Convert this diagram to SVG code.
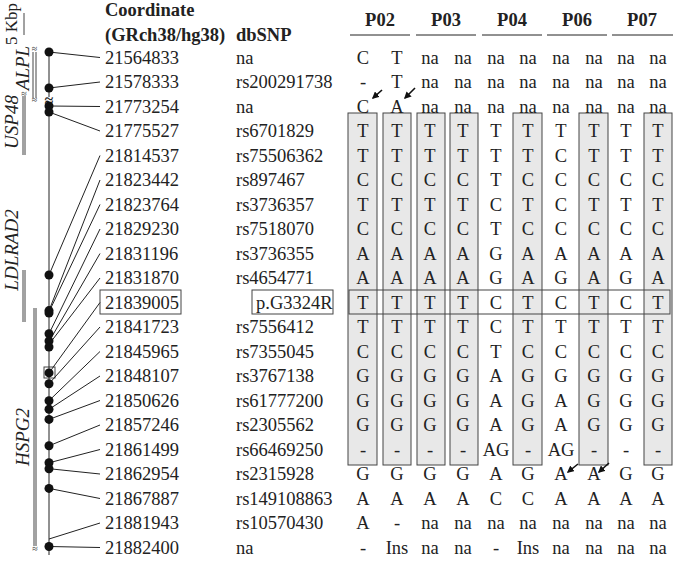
<svg xmlns="http://www.w3.org/2000/svg" width="675" height="581" viewBox="0 0 675 581">
<defs>
<style>
text{font-family:"Liberation Serif","Times New Roman",serif;font-size:18.5px;fill:#222}
.b{font-weight:bold}
.i{font-style:italic;font-size:19px}
.c{text-anchor:middle}
.ln{stroke:#222;stroke-width:1;fill:none}
.ar{stroke:#111;stroke-width:1.6;fill:none}
.gb{fill:#e8e8e8;stroke:#444;stroke-width:1}
.dot{fill:#111}
.bar{stroke:#444;stroke-width:1;fill:none}
</style>
<marker id="ah" viewBox="0 0 10 10" refX="8" refY="5" markerWidth="4.5" markerHeight="4.5" orient="auto"><path d="M0,0 L10,5 L0,10 z" fill="#111"/></marker>
</defs>
<rect width="675" height="581" fill="#fff"/>
<g id="header">
<text x="105" y="16" class="b">Coordinate</text>
<text x="105" y="41" class="b">(GRch38/hg38)</text>
<text x="236" y="41" class="b">dbSNP</text>
<text x="380" y="26" class="b c">P02</text>
<text x="446" y="26" class="b c">P03</text>
<text x="512" y="26" class="b c">P04</text>
<text x="577" y="26" class="b c">P06</text>
<text x="642" y="26" class="b c">P07</text>
<path class="ln" d="M350,35H410M416,35H476M482,35H542M547,35H607M612,35H673"/>
</g>
<g id="grey-columns">
<rect class="gb" x="348" y="113" width="29" height="352"/>
<rect class="gb" x="383" y="113" width="28" height="352"/>
<rect class="gb" x="417" y="113" width="28" height="352"/>
<rect class="gb" x="450" y="113" width="28" height="352"/>
<rect class="gb" x="513" y="113" width="29" height="352"/>
<rect class="gb" x="579" y="113" width="29" height="352"/>
<rect class="gb" x="644" y="113" width="28" height="352"/>
</g>
<g id="highlight">
<rect x="100" y="290" width="81" height="24" fill="none" stroke="#444"/>
<rect x="252" y="290" width="81" height="24" fill="none" stroke="#444"/>
<rect x="349" y="290" width="321" height="24" fill="none" stroke="#444"/>
<rect x="44" y="367" width="11" height="11" fill="none" stroke="#444"/>
</g>
<g id="genes">
<path class="bar" d="M24,13V35"/>
<text transform="translate(17,24) rotate(-90)" class="c" style="font-size:17px">5 Kbp</text>
<path class="bar" d="M33,52V98M36,52V98"/>
<text x="34.5" y="52" class="c" style="font-size:10px">≈</text>
<text x="34.5" y="103" class="c" style="font-size:10px">≈</text>
<text transform="translate(29,68) rotate(-90)" class="i c">ALPL</text>
<path class="bar" d="M23,96V155M25,96V155"/>
<text x="24" y="97" class="c" style="font-size:10px">≈</text>
<text transform="translate(18,122) rotate(-90)" class="i c">USP48</text>
<path class="bar" d="M23,270V322M25,270V322"/>
<text transform="translate(18,250) rotate(-90)" class="i c">LDLRAD2</text>
<path class="bar" d="M34,308V546M36,308V546"/>
<text x="35" y="552" class="c" style="font-size:10px">≈</text>
<text transform="translate(29,437) rotate(-90)" class="i c">HSPG2</text>
</g>
<g id="track">
<path class="ln" d="M49,52V97M49,104V555"/>
<text x="49" y="106" class="c b" style="font-size:16px">≈</text>
</g>
<g id="connectors">
<path class="ln" d="M49,52L100,57.5M49,88L100,82M49,106L100,106.5M49,112L100,131M49,275L100,155.5M49,310.6L100,180M49,311.9L100,204.5M49,333.8L100,229M49,341.6L100,253.5M49,344.3L100,278M49,372.9L100,302.5M49,383.7L100,327M49,400.7L100,351.5M49,409.3L100,376M49,419.4L100,400.5M49,445.8L100,425M49,462.8L100,449.5M49,468.7L100,474M49,488.4L100,498.5M49,539L100,523M49,546.5L100,547.5"/>
<path class="ar" d="M382,90L373,98" marker-end="url(#ah)"/>
<path class="ar" d="M415,88L405,98" marker-end="url(#ah)"/>
<path class="ar" d="M578,464L568,472" marker-end="url(#ah)"/>
<path class="ar" d="M609,463L599,472" marker-end="url(#ah)"/>
</g>
<g id="dots" class="dot">
<circle cx="49" cy="52" r="4.5"/><circle cx="49" cy="88" r="4.5"/><circle cx="49" cy="106" r="4.5"/><circle cx="49" cy="112" r="4.5"/><circle cx="49" cy="275" r="4.5"/><circle cx="49" cy="310.6" r="4.5"/><circle cx="49" cy="313" r="4.5"/><circle cx="49" cy="333.8" r="4.5"/><circle cx="49" cy="341" r="4.5"/><circle cx="49" cy="347" r="4.5"/><circle cx="49" cy="372.9" r="4.5"/><circle cx="49" cy="383.7" r="4.5"/><circle cx="49" cy="400.7" r="4.5"/><circle cx="49" cy="409.3" r="4.5"/><circle cx="49" cy="419.4" r="4.5"/><circle cx="49" cy="445.8" r="4.5"/><circle cx="49" cy="462.8" r="4.5"/><circle cx="49" cy="468.7" r="4.5"/><circle cx="49" cy="488.4" r="4.5"/><circle cx="49" cy="546.5" r="4.5"/>
</g>
<g id="coords">
<text x="105" y="63.5">21564833</text><text x="105" y="88">21578333</text><text x="105" y="112.5">21773254</text><text x="105" y="137">21775527</text><text x="105" y="161.5">21814537</text><text x="105" y="186">21823442</text><text x="105" y="210.5">21823764</text><text x="105" y="235">21829230</text><text x="105" y="259.5">21831196</text><text x="105" y="284">21831870</text><text x="105" y="308.5">21839005</text><text x="105" y="333">21841723</text><text x="105" y="357.5">21845965</text><text x="105" y="382">21848107</text><text x="105" y="406.5">21850626</text><text x="105" y="431">21857246</text><text x="105" y="455.5">21861499</text><text x="105" y="480">21862954</text><text x="105" y="504.5">21867887</text><text x="105" y="529">21881943</text><text x="105" y="553.5">21882400</text>
</g>
<g id="snps">
<text x="236" y="63.5">na</text><text x="236" y="88">rs200291738</text><text x="236" y="112.5">na</text><text x="236" y="137">rs6701829</text><text x="236" y="161.5">rs75506362</text><text x="236" y="186">rs897467</text><text x="236" y="210.5">rs3736357</text><text x="236" y="235">rs7518070</text><text x="236" y="259.5">rs3736355</text><text x="236" y="284">rs4654771</text><text x="256" y="308.5">p.G3324R</text><text x="236" y="333">rs7556412</text><text x="236" y="357.5">rs7355045</text><text x="236" y="382">rs3767138</text><text x="236" y="406.5">rs61777200</text><text x="236" y="431">rs2305562</text><text x="236" y="455.5">rs66469250</text><text x="236" y="480">rs2315928</text><text x="236" y="504.5">rs149108863</text><text x="236" y="529">rs10570430</text><text x="236" y="553.5">na</text>
</g>
<g id="genotypes" class="c">
<text y="63.5"><tspan x="363">C</tspan><tspan x="397">T</tspan><tspan x="430">na</tspan><tspan x="463">na</tspan><tspan x="496">na</tspan><tspan x="528">na</tspan><tspan x="561">na</tspan><tspan x="594">na</tspan><tspan x="626">na</tspan><tspan x="658">na</tspan></text>
<text y="88"><tspan x="363">-</tspan><tspan x="397">T</tspan><tspan x="430">na</tspan><tspan x="463">na</tspan><tspan x="496">na</tspan><tspan x="528">na</tspan><tspan x="561">na</tspan><tspan x="594">na</tspan><tspan x="626">na</tspan><tspan x="658">na</tspan></text>
<text y="112.5"><tspan x="363">C</tspan><tspan x="397">A</tspan><tspan x="430">na</tspan><tspan x="463">na</tspan><tspan x="496">na</tspan><tspan x="528">na</tspan><tspan x="561">na</tspan><tspan x="594">na</tspan><tspan x="626">na</tspan><tspan x="658">na</tspan></text>
<text y="137"><tspan x="363">T</tspan><tspan x="397">T</tspan><tspan x="430">T</tspan><tspan x="463">T</tspan><tspan x="496">T</tspan><tspan x="528">T</tspan><tspan x="561">T</tspan><tspan x="594">T</tspan><tspan x="626">T</tspan><tspan x="658">T</tspan></text>
<text y="161.5"><tspan x="363">T</tspan><tspan x="397">T</tspan><tspan x="430">T</tspan><tspan x="463">T</tspan><tspan x="496">T</tspan><tspan x="528">T</tspan><tspan x="561">C</tspan><tspan x="594">T</tspan><tspan x="626">T</tspan><tspan x="658">T</tspan></text>
<text y="186"><tspan x="363">C</tspan><tspan x="397">C</tspan><tspan x="430">C</tspan><tspan x="463">C</tspan><tspan x="496">T</tspan><tspan x="528">C</tspan><tspan x="561">C</tspan><tspan x="594">C</tspan><tspan x="626">C</tspan><tspan x="658">C</tspan></text>
<text y="210.5"><tspan x="363">T</tspan><tspan x="397">T</tspan><tspan x="430">T</tspan><tspan x="463">T</tspan><tspan x="496">C</tspan><tspan x="528">T</tspan><tspan x="561">C</tspan><tspan x="594">T</tspan><tspan x="626">T</tspan><tspan x="658">T</tspan></text>
<text y="235"><tspan x="363">C</tspan><tspan x="397">C</tspan><tspan x="430">C</tspan><tspan x="463">C</tspan><tspan x="496">T</tspan><tspan x="528">C</tspan><tspan x="561">C</tspan><tspan x="594">C</tspan><tspan x="626">C</tspan><tspan x="658">C</tspan></text>
<text y="259.5"><tspan x="363">A</tspan><tspan x="397">A</tspan><tspan x="430">A</tspan><tspan x="463">A</tspan><tspan x="496">G</tspan><tspan x="528">A</tspan><tspan x="561">A</tspan><tspan x="594">A</tspan><tspan x="626">A</tspan><tspan x="658">A</tspan></text>
<text y="284"><tspan x="363">A</tspan><tspan x="397">A</tspan><tspan x="430">A</tspan><tspan x="463">A</tspan><tspan x="496">G</tspan><tspan x="528">A</tspan><tspan x="561">G</tspan><tspan x="594">A</tspan><tspan x="626">G</tspan><tspan x="658">A</tspan></text>
<text y="308.5"><tspan x="363">T</tspan><tspan x="397">T</tspan><tspan x="430">T</tspan><tspan x="463">T</tspan><tspan x="496">C</tspan><tspan x="528">T</tspan><tspan x="561">C</tspan><tspan x="594">T</tspan><tspan x="626">C</tspan><tspan x="658">T</tspan></text>
<text y="333"><tspan x="363">T</tspan><tspan x="397">T</tspan><tspan x="430">T</tspan><tspan x="463">T</tspan><tspan x="496">C</tspan><tspan x="528">T</tspan><tspan x="561">T</tspan><tspan x="594">T</tspan><tspan x="626">T</tspan><tspan x="658">T</tspan></text>
<text y="357.5"><tspan x="363">C</tspan><tspan x="397">C</tspan><tspan x="430">C</tspan><tspan x="463">C</tspan><tspan x="496">T</tspan><tspan x="528">C</tspan><tspan x="561">C</tspan><tspan x="594">C</tspan><tspan x="626">C</tspan><tspan x="658">C</tspan></text>
<text y="382"><tspan x="363">G</tspan><tspan x="397">G</tspan><tspan x="430">G</tspan><tspan x="463">G</tspan><tspan x="496">A</tspan><tspan x="528">G</tspan><tspan x="561">G</tspan><tspan x="594">G</tspan><tspan x="626">G</tspan><tspan x="658">G</tspan></text>
<text y="406.5"><tspan x="363">G</tspan><tspan x="397">G</tspan><tspan x="430">G</tspan><tspan x="463">G</tspan><tspan x="496">A</tspan><tspan x="528">G</tspan><tspan x="561">A</tspan><tspan x="594">G</tspan><tspan x="626">G</tspan><tspan x="658">G</tspan></text>
<text y="431"><tspan x="363">G</tspan><tspan x="397">G</tspan><tspan x="430">G</tspan><tspan x="463">G</tspan><tspan x="496">A</tspan><tspan x="528">G</tspan><tspan x="561">A</tspan><tspan x="594">G</tspan><tspan x="626">G</tspan><tspan x="658">G</tspan></text>
<text y="455.5"><tspan x="363">-</tspan><tspan x="397">-</tspan><tspan x="430">-</tspan><tspan x="463">-</tspan><tspan x="496">AG</tspan><tspan x="528">-</tspan><tspan x="561">AG</tspan><tspan x="594">-</tspan><tspan x="626">-</tspan><tspan x="658">-</tspan></text>
<text y="480"><tspan x="363">G</tspan><tspan x="397">G</tspan><tspan x="430">G</tspan><tspan x="463">G</tspan><tspan x="496">A</tspan><tspan x="528">G</tspan><tspan x="561">A</tspan><tspan x="594">A</tspan><tspan x="626">G</tspan><tspan x="658">G</tspan></text>
<text y="504.5"><tspan x="363">A</tspan><tspan x="397">A</tspan><tspan x="430">A</tspan><tspan x="463">A</tspan><tspan x="496">C</tspan><tspan x="528">C</tspan><tspan x="561">A</tspan><tspan x="594">A</tspan><tspan x="626">A</tspan><tspan x="658">A</tspan></text>
<text y="529"><tspan x="363">A</tspan><tspan x="397">-</tspan><tspan x="430">na</tspan><tspan x="463">na</tspan><tspan x="496">na</tspan><tspan x="528">na</tspan><tspan x="561">na</tspan><tspan x="594">na</tspan><tspan x="626">na</tspan><tspan x="658">na</tspan></text>
<text y="553.5"><tspan x="363">-</tspan><tspan x="397">Ins</tspan><tspan x="430">na</tspan><tspan x="463">na</tspan><tspan x="496">-</tspan><tspan x="528">Ins</tspan><tspan x="561">na</tspan><tspan x="594">na</tspan><tspan x="626">na</tspan><tspan x="658">na</tspan></text>
</g>
</svg>
